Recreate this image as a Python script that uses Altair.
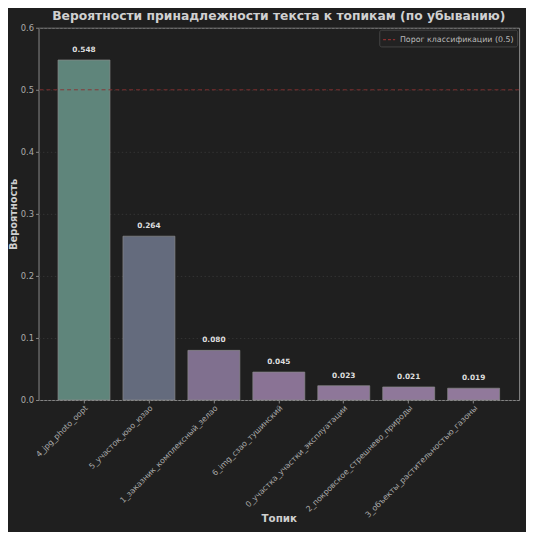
import altair as alt
import pandas as pd

topics = [
    "4_jpg_photo_oopt",
    "5_участок_юао_юзао",
    "1_заказник_комплексный_зелао",
    "6_img_сзао_тушинский",
    "0_участка_участки_эксплуатации",
    "2_покровское_стрешнево_природы",
    "3_объекты_растительностью_газоны",
]
probs = [0.548, 0.264, 0.080, 0.045, 0.023, 0.021, 0.019]
colors = ["#5f857b", "#646b7d", "#80708f", "#8a7395", "#8e7799", "#8f789a", "#91799b"]
threshold = 0.5
threshold_label = "Порог классификации (0.5)"

df = pd.DataFrame({"topic": topics, "prob": probs, "color": colors,
                   "label": [f"{p:.3f}" for p in probs]})
thr = pd.DataFrame({"y": [threshold], "name": [threshold_label]})

FONT = "DejaVu Sans"
BG = "#1f1f1f"

x = alt.X("topic:N", sort=topics, title="Топик",
          scale=alt.Scale(paddingInner=0.2, paddingOuter=0.3),
          axis=alt.Axis(labelAngle=315, labelAlign="right", labelBaseline="top",
                        labelFontSize=8, labelColor="#aaaaaa", labelFont=FONT,
                        labelPadding=1, tickColor="#888888", tickSize=3,
                        domain=False, grid=False,
                        titleFontSize=10.5, titleFontWeight="bold", titleColor="#cfcfcf",
                        titleFont=FONT, titleY=125, titleBaseline="bottom"))
y = alt.Y("prob:Q", title="Вероятность",
          scale=alt.Scale(domain=[0, 0.6], nice=False),
          axis=alt.Axis(values=[0, 0.1, 0.2, 0.3, 0.4, 0.5, 0.6], format=".1f",
                        labelFontSize=8.5, labelColor="#aaaaaa", labelFont=FONT,
                        labelPadding=2, tickColor="#888888", tickSize=3,
                        domain=False, grid=True, gridColor="#3a3a3a",
                        gridDash=[1.5, 2.5], gridWidth=0.8,
                        titleFontSize=10, titleFontWeight="bold", titleColor="#cfcfcf",
                        titleFont=FONT, titleX=-20, titleY=189,
                        titleBaseline="bottom", titleAngle=270))

bars = alt.Chart(df).mark_bar(stroke="#8a8a8a", strokeWidth=0.7).encode(
    x=x, y=y, color=alt.Color("color:N", scale=None))

texts = alt.Chart(df).mark_text(dy=-10, fontSize=7.5, fontWeight="bold",
                                color="#dddddd", font=FONT).encode(
    x=alt.X("topic:N", sort=topics), y="prob:Q", text="label:N")

rule = alt.Chart(thr).mark_rule(strokeDash=[4, 3], strokeWidth=1, opacity=0.9).encode(
    y="y:Q",
    color=alt.Color("name:N", scale=alt.Scale(range=["#8b3030"]),
                    legend=alt.Legend(title=None, orient="top-right", offset=2,
                                      symbolType="stroke", symbolStrokeWidth=1.2,
                                      symbolDash=[3, 2], symbolSize=150,
                                      labelFontSize=8, labelColor="#bbbbbb", labelFont=FONT,
                                      fillColor="#222222", strokeColor="#444444",
                                      padding=3, cornerRadius=2)))

chart = alt.layer(bars, rule, texts).properties(
    width=488, height=378,
    title=alt.TitleParams("Вероятности принадлежности текста к топикам (по убыванию)",
                          fontSize=12.5, fontWeight="bold", color="#d0d0d0",
                          font=FONT, offset=1, anchor="middle"),
    autosize=alt.AutoSizeParams(type="none"),
    padding={"left": 31, "top": 16, "right": 7, "bottom": 130},
    background=BG,
).configure_view(stroke="#8a8a8a", strokeWidth=1, fill=BG)

chart.save("out.html", embed_options={"renderer": "svg", "actions": False})
